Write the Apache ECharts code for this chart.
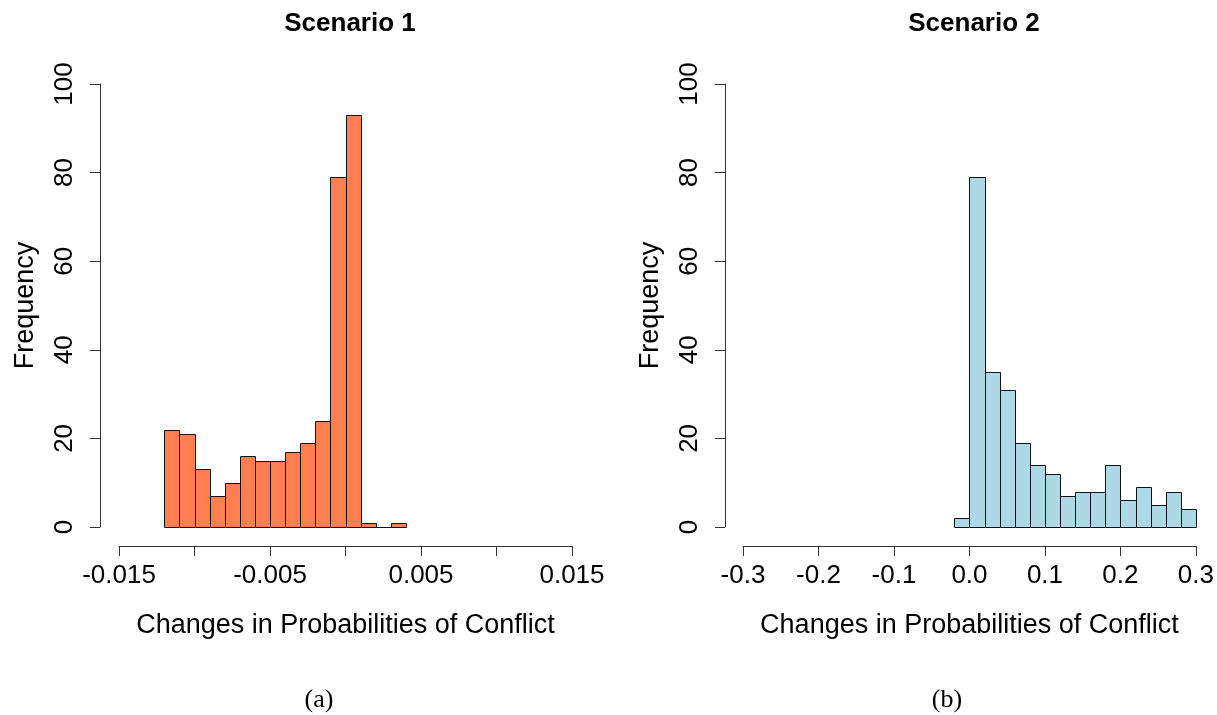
<!DOCTYPE html>
<html>
<head>
<meta charset="utf-8">
<script src="https://cdn.jsdelivr.net/npm/echarts@6/dist/echarts.min.js"></script>
<style>
html,body{margin:0;padding:0;background:#fff;}
#chart{width:1217px;height:715px;}
</style>
</head>
<body>
<div id="chart"></div>
<script>
// Scenario 1 histogram
var leftBreaks = [-0.012, -0.011, -0.010, -0.009, -0.008, -0.007, -0.006, -0.005, -0.004, -0.003, -0.002, -0.001, 0.000, 0.001, 0.002, 0.003, 0.004];
var leftCounts = [22, 21, 13, 7, 10, 16, 15, 15, 17, 19, 24, 79, 93, 1, 0, 1];
// Scenario 2 histogram
var rightBreaks = [-0.02, 0.00, 0.02, 0.04, 0.06, 0.08, 0.10, 0.12, 0.14, 0.16, 0.18, 0.20, 0.22, 0.24, 0.26, 0.28, 0.30];
var rightCounts = [2, 79, 35, 31, 19, 14, 12, 7, 8, 8, 14, 6, 9, 5, 8, 4];
var yTicks = [0, 20, 40, 60, 80, 100];
var titles = ['Scenario 1', 'Scenario 2'];
var captions = ['(a)', '(b)'];
var xName = 'Changes in Probabilities of Conflict';
var yName = 'Frequency';

function binData(breaks, counts) {
  var out = [];
  for (var i = 0; i < counts.length; i++) out.push([breaks[i], breaks[i + 1], counts[i]]);
  return out;
}

function renderBin(params, api) {
  var p0 = api.coord([api.value(0), api.value(2)]);
  var p1 = api.coord([api.value(1), 0]);
  var x = Math.round(p0[0]) + 0.5, x2 = Math.round(p1[0]) + 0.5;
  var y = Math.round(p0[1]) + 0.5, y2 = Math.round(p1[1]) + 0.5;
  return {
    type: 'rect',
    shape: {x: x, y: y, width: x2 - x, height: y2 - y},
    style: {fill: api.visual('color'), stroke: '#111', lineWidth: 1}
  };
}

var font = 'Liberation Sans, Arial, sans-serif';
var axisCol = '#333';

function yAxisDef(gi, offset) {
  return {
    type: 'value', gridIndex: gi, min: yTicks[0], max: yTicks[yTicks.length - 1], interval: yTicks[1] - yTicks[0],
    offset: offset, position: 'left',
    name: yName, nameLocation: 'middle', nameGap: 61, nameRotate: 90,
    nameTextStyle: {fontFamily: font, fontSize: 27, color: '#000'},
    axisLine: {show: true, onZero: false, lineStyle: {color: axisCol, width: 1}},
    axisTick: {show: true, length: 10, inside: false, lineStyle: {color: axisCol}},
    axisLabel: {rotate: 90, margin: 22, fontFamily: font, fontSize: 26, color: '#000'},
    splitLine: {show: false}
  };
}

function xAxisDef(gi, min, max, interval, fmt) {
  return {
    type: 'value', gridIndex: gi, min: min, max: max, interval: interval,
    offset: 19, position: 'bottom',
    name: xName, nameLocation: 'middle', nameGap: 66,
    nameTextStyle: {fontFamily: font, fontSize: 27, color: '#000'},
    axisLine: {show: true, onZero: false, lineStyle: {color: axisCol, width: 1}},
    axisTick: {show: true, length: 10, inside: false, lineStyle: {color: axisCol}},
    axisLabel: {margin: 17, fontFamily: font, fontSize: 26, color: '#000', formatter: fmt, showMinLabel: true, showMaxLabel: true},
    splitLine: {show: false}
  };
}

var chart = echarts.init(document.getElementById('chart'), null, {renderer: 'canvas'});
chart.setOption({
  animation: false,
  backgroundColor: '#fff',
  title: [
    {text: titles[0], left: 345, top: 6, textAlign: 'center', textStyle: {fontFamily: font, fontSize: 26, fontWeight: 'bold', color: '#000'}},
    {text: titles[1], left: 969, top: 6, textAlign: 'center', textStyle: {fontFamily: font, fontSize: 26, fontWeight: 'bold', color: '#000'}}
  ],
  grid: [
    {left: 119, top: 84, width: 453, height: 443},
    {left: 743, top: 84, width: 453, height: 443}
  ],
  xAxis: [
    xAxisDef(0, -0.015, 0.015, 0.005, function (v) {
      var k = Math.round(v * 1000);
      if (Math.abs(k) % 10 !== 5) return '';
      return (k / 1000).toFixed(3);
    }),
    xAxisDef(1, -0.3, 0.3, 0.1, function (v) {
      var k = Math.round(v * 10);
      return (k === 0 ? 0 : k / 10).toFixed(1);
    })
  ],
  yAxis: [yAxisDef(0, 19), yAxisDef(1, 18)],
  series: [
    {type: 'custom', xAxisIndex: 0, yAxisIndex: 0, clip: false, silent: true,
     itemStyle: {color: '#FF7F50'}, renderItem: renderBin, encode: {x: [0, 1], y: 2},
     data: binData(leftBreaks, leftCounts)},
    {type: 'custom', xAxisIndex: 1, yAxisIndex: 1, clip: false, silent: true,
     itemStyle: {color: '#ADD8E6'}, renderItem: renderBin, encode: {x: [0, 1], y: 2},
     data: binData(rightBreaks, rightCounts)}
  ],
  graphic: [
    {type: 'text', x: 319, y: 700, style: {text: captions[0], font: '26px "Liberation Serif", "Times New Roman", serif', fill: '#000', textAlign: 'center', textVerticalAlign: 'middle'}},
    {type: 'text', x: 947, y: 700, style: {text: captions[1], font: '26px "Liberation Serif", "Times New Roman", serif', fill: '#000', textAlign: 'center', textVerticalAlign: 'middle'}}
  ]
});
</script>
</body>
</html>
